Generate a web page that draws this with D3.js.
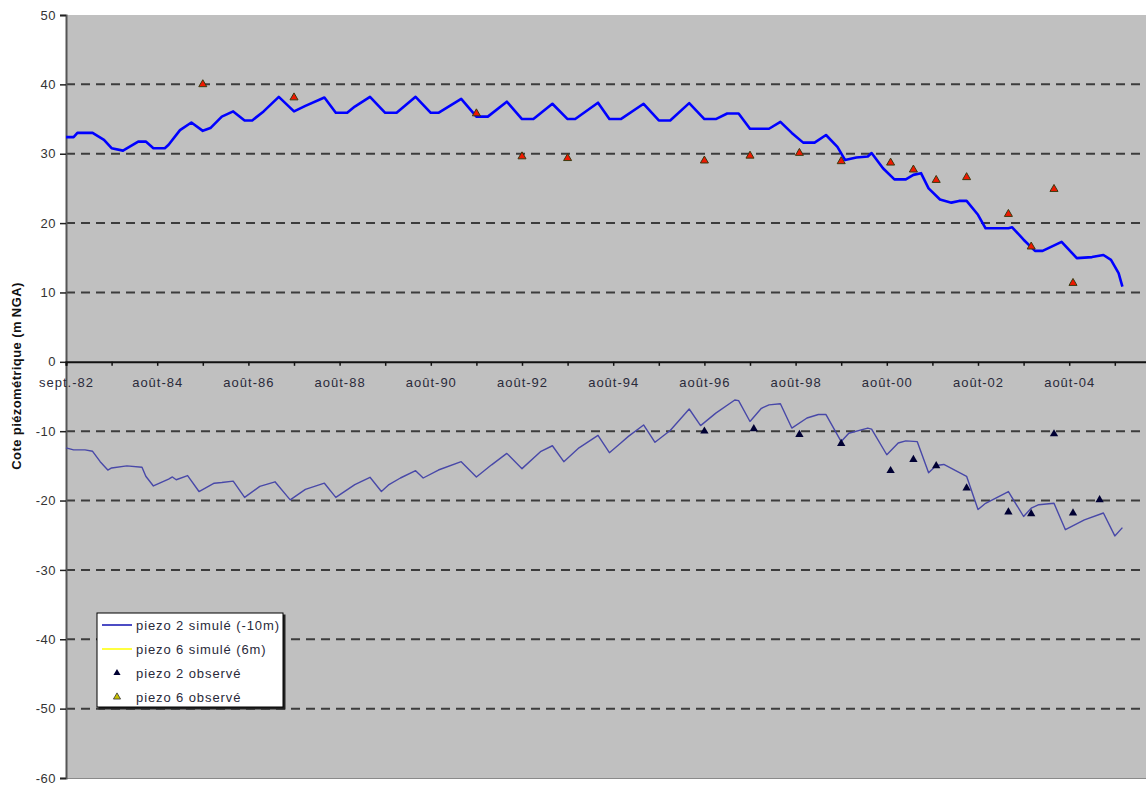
<!DOCTYPE html>
<html>
<head>
<meta charset="utf-8">
<script src="https://cdn.jsdelivr.net/npm/d3@7"></script>
<style>
  html, body { margin: 0; padding: 0; background: #ffffff; }
  svg { display: block; }
  text { font-family: "Liberation Sans", Arial, sans-serif; }
</style>
</head>
<body>
<svg id="chart" width="1146" height="787"></svg>
<script>
// ---- Data (x = months since sept. 1982) ----
const xTickLabels = ["sept.-82","août-84","août-86","août-88","août-90","août-92","août-94","août-96","août-98","août-00","août-02","août-04"];
const yTicks = [-60,-50,-40,-30,-20,-10,0,10,20,30,40,50];

// piezo 6 simulé (6m) — upper line
const piezo6Sim = [[0,32.4],[2,32.4],[3,33.0],[7,33.0],[10,32.0],[12,30.8],[15,30.45],[17,31.1],[19,31.75],[21,31.75],[23,30.8],[26,30.8],[27,31.3],[30,33.4],[33,34.5],[36,33.3],[38,33.7],[41,35.35],[44,36.1],[47,34.8],[49,34.8],[52,36.1],[56,38.2],[60,36.1],[63,36.9],[68,38.1],[71,35.9],[74,35.9],[76,36.8],[80,38.2],[84,35.9],[87,35.9],[92,38.2],[96,35.9],[98,35.9],[104,37.9],[108,35.35],[111,35.35],[116,37.5],[120,35.0],[123,35.0],[128,37.2],[132,35.0],[134,35.0],[140,37.35],[143,35.0],[146,35.0],[152,37.2],[156,34.8],[159,34.8],[164,37.3],[168,35.0],[171,35.0],[174,35.8],[177,35.8],[180,33.6],[185,33.6],[188,34.6],[191,33.0],[194,31.6],[197,31.6],[200,32.7],[203,31.0],[205,29.1],[208,29.45],[211,29.6],[212,30.1],[215,27.9],[218,26.3],[221,26.3],[223,26.95],[225,27.2],[227,25.0],[230,23.4],[233,22.95],[235,23.2],[237,23.2],[240,21.2],[242,19.25],[248,19.25],[249,19.4],[252,17.6],[255,16.0],[257,16.0],[262,17.3],[266,14.95],[270,15.1],[273,15.4],[275,14.7],[277,12.8],[278,10.85]];

// piezo 2 simulé (-10m) — lower line
const piezo2Sim = [[0,-12.4],[2,-12.7],[5,-12.7],[7,-12.9],[9,-14.4],[11,-15.6],[12,-15.3],[16,-15.0],[20,-15.2],[21,-16.5],[23,-17.9],[27,-16.9],[28,-16.6],[29,-17.0],[32,-16.4],[35,-18.7],[39,-17.5],[41,-17.4],[44,-17.2],[47,-19.55],[51,-17.95],[55,-17.3],[59,-19.9],[63,-18.4],[68,-17.5],[71,-19.55],[76,-17.7],[80,-16.65],[83,-18.7],[85,-17.7],[88,-16.75],[92,-15.7],[94,-16.75],[98,-15.6],[104,-14.4],[108,-16.6],[112,-14.85],[116,-13.2],[120,-15.4],[125,-12.9],[128,-12.1],[131,-14.4],[135,-12.4],[140,-10.6],[143,-13.1],[146,-11.7],[148,-10.75],[152,-9.1],[155,-11.6],[159,-9.9],[164,-6.8],[167,-9.2],[171,-7.4],[176,-5.5],[177,-5.6],[180,-8.6],[183,-6.7],[185,-6.2],[188,-6.05],[191,-9.55],[195,-8.1],[198,-7.6],[200,-7.6],[204,-11.5],[206,-10.3],[211,-9.55],[212,-9.7],[216,-13.4],[219,-11.7],[221,-11.4],[224,-11.5],[227,-16.0],[229,-14.95],[231,-14.8],[237,-16.5],[240,-21.3],[242,-20.4],[248,-18.7],[252,-22.3],[254,-21.1],[256,-20.6],[260,-20.4],[263,-24.2],[268,-22.8],[273,-21.8],[276,-25.1],[278,-23.9]];

// observed
const piezo2Obs = [[168,-10.0],[181,-9.65],[193,-10.5],[204,-11.8],[217,-15.7],[223,-14.1],[229,-15.0],[237,-18.2],[248,-21.65],[254,-21.9],[260,-10.4],[265,-21.8],[272,-19.9]];
const piezo6Obs = [[36,40.0],[60,38.1],[108,35.8],[120,29.6],[132,29.35],[168,29.0],[180,29.7],[193,30.1],[204,28.9],[217,28.7],[223,27.7],[229,26.2],[237,26.6],[248,21.3],[254,16.6],[260,24.9],[265,11.35]];

const legendLabels = ["piezo 2 simulé (-10m)","piezo 6 simulé (6m)","piezo 2 observé","piezo 6 observé"];
const yTitle = "Cote piézométrique (m NGA)";

// ---- Layout ----
const svg = d3.select("#chart");
const pLeft = 66, pRight = 1149, pTop = 15, pBottom = 778;
const x = d3.scaleLinear().domain([0, 285]).range([pLeft, pRight]);
const y = d3.scaleLinear().domain([-60, 50]).range([pBottom, pTop]);

// plot background
svg.append("rect").attr("x", pLeft).attr("y", pTop).attr("width", pRight - pLeft).attr("height", pBottom - pTop).attr("fill", "#c0c0c0");
svg.append("line").attr("x1", pLeft).attr("x2", pRight).attr("y1", pBottom + 0.5).attr("y2", pBottom + 0.5).attr("stroke", "#8a8a8a").attr("stroke-width", 1);

// dashed gridlines
svg.append("g").selectAll("line").data(yTicks.filter(v => v !== 0 && v !== 50 && v !== -60)).join("line")
  .attr("x1", pLeft).attr("x2", pRight)
  .attr("y1", d => y(d)).attr("y2", d => y(d))
  .attr("stroke", "#3c3c3c").attr("stroke-width", 2).attr("stroke-dasharray", "9,6");

// Y axis
const yAxis = svg.append("g").attr("transform", `translate(${pLeft},0)`)
  .call(d3.axisLeft(y).tickValues(yTicks).tickSize(6).tickPadding(4).tickFormat(d => String(d)));
yAxis.select(".domain").attr("stroke", "#555").attr("stroke-width", 2);
yAxis.selectAll(".tick line").attr("stroke", "#222").attr("stroke-width", 1.5);
yAxis.selectAll("text").attr("font-size", 13).attr("fill", "#333").attr("letter-spacing", "0.5px")
  .attr("font-family", '"Liberation Sans", Arial, sans-serif');
yAxis.attr("font-family", null);

// X axis at y = 0
const xTickVals = d3.range(0, 285, 12);
const xAxis = svg.append("g").attr("transform", `translate(0,${y(0)})`)
  .call(d3.axisBottom(x).tickValues(xTickVals).tickSize(4).tickPadding(12)
    .tickFormat((d) => (d % 24 === 0 ? xTickLabels[d / 24] : "")));
xAxis.select(".domain").attr("stroke", "#111").attr("stroke-width", 2);
xAxis.selectAll(".tick line").attr("stroke", "#111").attr("stroke-width", 1.5);
xAxis.selectAll("text").attr("font-size", 13).attr("fill", "#2a2a3a").attr("letter-spacing", "1px")
  .attr("font-family", '"Liberation Sans", Arial, sans-serif');
xAxis.attr("font-family", null);

// Y title
svg.append("text").attr("transform", `translate(21,376) rotate(-90)`)
  .attr("text-anchor", "middle").attr("font-size", 13).attr("letter-spacing", "0.4px")
  .attr("font-weight", "bold").attr("fill", "#111")
  .text(yTitle);

// lines
const line = d3.line().x(d => x(d[0])).y(d => y(d[1]));
svg.append("path").datum(piezo2Sim).attr("d", line).attr("fill", "none")
  .attr("stroke", "#4848a8").attr("stroke-width", 1.4).attr("stroke-linejoin", "round");
svg.append("path").datum(piezo6Sim).attr("d", line).attr("fill", "none")
  .attr("stroke", "#0000ff").attr("stroke-width", 2.6).attr("stroke-linejoin", "round");

// observed markers
const tri = d3.symbol().type(d3.symbolTriangle);
svg.append("g").selectAll("path").data(piezo2Obs).join("path")
  .attr("d", tri.size(30)())
  .attr("transform", d => `translate(${x(d[0])},${y(d[1])})`)
  .attr("fill", "#000033");
svg.append("g").selectAll("path").data(piezo6Obs).join("path")
  .attr("d", tri.size(28)())
  .attr("transform", d => `translate(${x(d[0])},${y(d[1])})`)
  .attr("fill", "#f01800").attr("stroke", "#3a3a10").attr("stroke-width", 1);

// legend
const lg = svg.append("g").attr("transform", "translate(97,613)");
lg.append("rect").attr("x", 1.5).attr("y", 1.5).attr("width", 187).attr("height", 95).attr("fill", "#222");
lg.append("rect").attr("x", 0).attr("y", 0).attr("width", 186).attr("height", 94).attr("fill", "#ffffff").attr("stroke", "#000").attr("stroke-width", 1);
const rowY = [12, 36, 60, 84];
lg.append("line").attr("x1", 5).attr("x2", 35).attr("y1", rowY[0]).attr("y2", rowY[0]).attr("stroke", "#1010b0").attr("stroke-width", 1.5);
lg.append("line").attr("x1", 5).attr("x2", 35).attr("y1", rowY[1]).attr("y2", rowY[1]).attr("stroke", "#ffff00").attr("stroke-width", 1.5);
lg.append("path").attr("d", d3.symbol().type(d3.symbolTriangle).size(22)()).attr("transform", `translate(20,${rowY[2]})`).attr("fill", "#000033");
lg.append("path").attr("d", d3.symbol().type(d3.symbolTriangle).size(22)()).attr("transform", `translate(20,${rowY[3]})`).attr("fill", "#c8c000").attr("stroke", "#333").attr("stroke-width", 0.8);
lg.selectAll("text.lab").data(legendLabels).join("text").attr("class", "lab")
  .attr("x", 39).attr("y", (d, i) => rowY[i]).attr("dy", "0.35em")
  .attr("font-size", 13).attr("letter-spacing", "0.9px").attr("fill", "#2a2a3a")
  .text(d => d);
</script>
</body>
</html>
